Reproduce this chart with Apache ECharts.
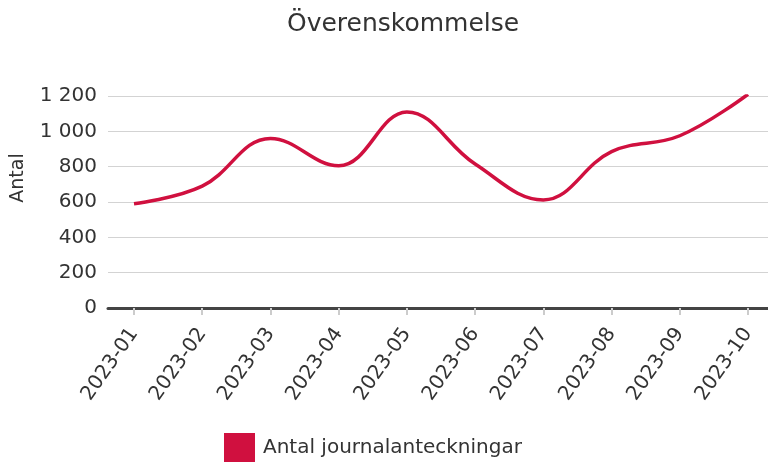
<!DOCTYPE html>
<html>
<head>
<meta charset="utf-8">
<script src="https://cdn.jsdelivr.net/npm/echarts@6/dist/echarts.min.js"></script>
<style>html,body{margin:0;padding:0;background:#fff}#c{width:768px;height:462px}</style>
</head>
<body>
<div id="c"></div>
<script>
var months = ['2023-01','2023-02','2023-03','2023-04','2023-05','2023-06','2023-07','2023-08','2023-09','2023-10'];
var values = [590, 690, 960, 805, 1110, 815, 612, 885, 975, 1210];
var yTicks = [0, 200, 400, 600, 800, 1000, 1200];
var seriesName = 'Antal journalanteckningar';
var titleText = 'Överenskommelse';
var yName = 'Antal';

var font = 'DejaVu Sans';
var idx = months.map(function(m, i){ return i; });
var chart = echarts.init(document.getElementById('c'), null, {renderer: 'canvas'});
chart.setOption({
  animation: false,
  textStyle: {fontFamily: font},
  title: {
    text: titleText, left: 287, top: 12, padding: 0,
    textStyle: {fontFamily: font, fontSize: 25, fontWeight: 'normal', color: '#333'}
  },
  legend: {
    left: 224, top: 433, padding: 0, icon: 'rect', itemWidth: 31, itemHeight: 30, itemGap: 10,
    textStyle: {fontFamily: font, fontSize: 20, color: '#333', padding: [0,0,6,3]},
    data: [seriesName]
  },
  grid: {left: 108, right: 0, top: 96, bottom: 154, containLabel: false},
  xAxis: {
    type: 'value', min: -0.381, max: 9.293,
    axisLine: {show: true, lineStyle: {color: '#444', width: 3}},
    axisTick: {show: true, customValues: idx, length: 7, lineStyle: {color: '#ccc', width: 2}},
    axisLabel: {
      customValues: idx, rotate: 55, margin: 22, fontSize: 20, color: '#333', fontFamily: font,
      formatter: function(v){ return months[Math.round(v)]; }
    },
    splitLine: {show: false}
  },
  yAxis: {
    type: 'value', min: yTicks[0], max: yTicks[yTicks.length-1], interval: 200,
    name: yName, nameLocation: 'middle', nameGap: 80,
    nameTextStyle: {fontFamily: font, fontSize: 19, color: '#333', padding: [0,0,0,48]},
    axisLine: {show: false}, axisTick: {show: false},
    axisLabel: {
      margin: 11, fontSize: 20, color: '#333', fontFamily: font,
      formatter: function(v){ return String(v).replace(/\B(?=(\d{3})+(?!\d))/g, ' '); }
    },
    splitLine: {lineStyle: {color: '#d3d3d3', width: 1}}
  },
  series: [{
    name: seriesName, type: 'line', smooth: 0.4, symbol: 'none',
    lineStyle: {color: '#d0103f', width: 3.5},
    itemStyle: {color: '#d0103f'},
    data: values.map(function(v, i){ return [idx[i], v]; })
  }]
});
</script>
</body>
</html>
